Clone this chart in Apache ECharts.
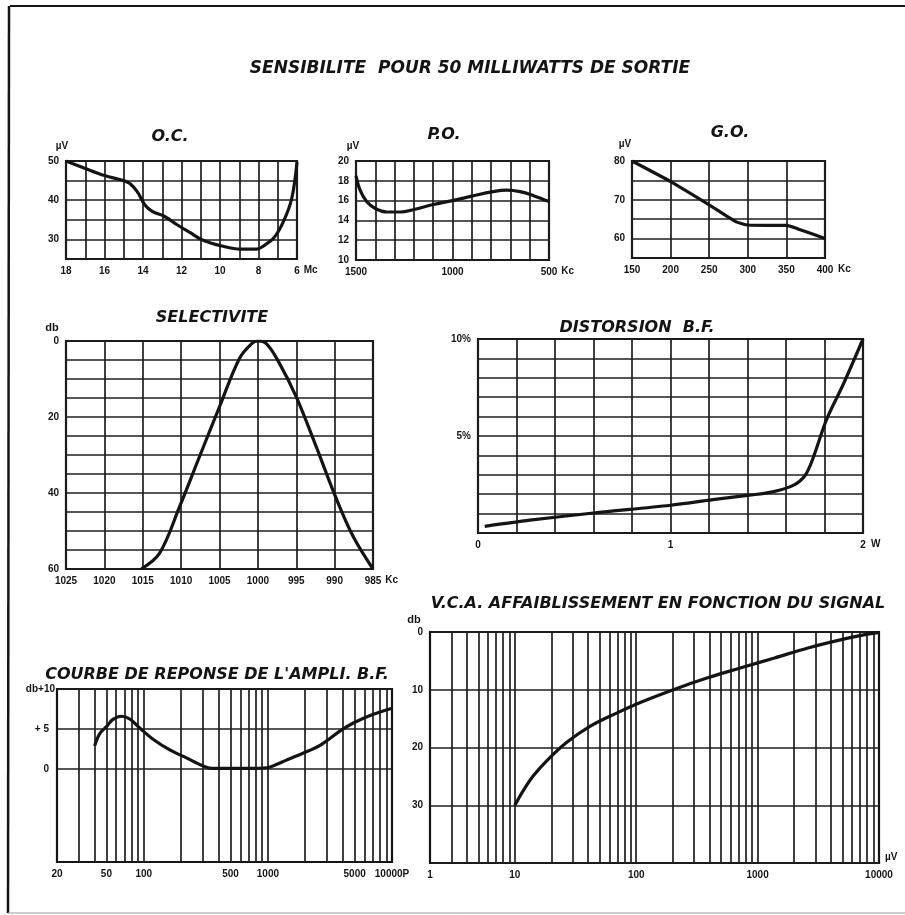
<!DOCTYPE html>
<html><head><meta charset="utf-8">
<script src="https://cdn.jsdelivr.net/npm/echarts@6/dist/echarts.min.js"></script>
<style>html,body{margin:0;padding:0;background:#fff}#c{width:905px;height:915px}</style>
</head><body><div id="c"></div>
<script>
// ---------- DATA ----------
// O.C. (Mc -> µV)
const ocFreq = [18, 17, 16, 15, 14.7, 14.3, 13.9, 13.5, 12.9, 12.25, 11.55, 10.85, 9.9, 8.95, 8.1, 7.75, 7.2, 6.7, 6.27, 6.0];
const ocUv   = [50, 48.1, 46.3, 45.0, 44.3, 42.2, 38.8, 37.1, 35.9, 33.8, 31.7, 29.7, 28.3, 27.5, 27.5, 28.3, 30.4, 34.6, 40.5, 49.7];
// P.O. (Kc -> µV)
const poFreq = [1500, 1480, 1445, 1400, 1340, 1270, 1200, 1100, 1000, 900, 790, 720, 650, 580, 500];
const poUv   = [18.5, 17.1, 15.9, 15.2, 14.85, 14.85, 15.1, 15.6, 16.0, 16.45, 16.9, 17.05, 16.9, 16.5, 15.9];
// G.O. (Kc -> µV)
const goFreq = [150, 200, 250, 285, 300, 325, 350, 365, 400];
const goUv   = [80, 74.7, 68.7, 64.3, 63.5, 63.4, 63.4, 62.5, 60];
// Selectivite (Kc -> db)
const selFreq = [1015.2, 1012.8, 1010.2, 1007.6, 1005.0, 1002.4, 1000.8, 1000, 998.9, 997.4, 995.0, 992.4, 989.9, 987.6, 985];
const selDb   = [60, 55.8, 43.6, 30.4, 17.3, 4.6, 0.7, 0, 0.7, 5.1, 14.7, 27.8, 40.9, 51.4, 60];
// Distorsion B.F. (W -> %)
const distW   = [0.035, 0.27, 0.6, 1.0, 1.22, 1.41, 1.53, 1.64, 1.70, 1.74, 1.81, 1.90, 2.0];
const distPct = [0.34, 0.66, 1.03, 1.43, 1.72, 1.95, 2.12, 2.47, 2.98, 3.84, 5.83, 7.72, 10];
// Courbe de reponse (Hz -> db)
const respHz = [40.2, 44.1, 50.1, 56.5, 66.3, 77.2, 93.3, 119.6, 162, 221, 300, 352, 465, 676, 980, 1332, 1935, 2650, 3850, 4880, 6660, 10000];
const respDb = [2.9, 4.4, 5.3, 6.2, 6.6, 6.25, 5.1, 3.7, 2.4, 1.4, 0.4, 0.1, 0.08, 0.08, 0.17, 0.96, 2.0, 3.0, 4.8, 5.75, 6.7, 7.6];
// V.C.A. (µV -> db)
const vcaUv = [10, 11.7, 14.2, 18.3, 26.8, 41.9, 69.6, 108, 205, 388, 730, 1377, 2600, 4900, 7660, 10000];
const vcaDb = [30, 27.5, 24.9, 22.3, 19.1, 16.3, 14.0, 12.2, 9.94, 7.93, 6.2, 4.5, 2.76, 1.32, 0.46, 0.06];

// tick / grid values
const respGridHz = [30,40,50,60,70,80,90,100,200,300,400,500,600,700,800,900,1000,2000,3000,4000,5000,6000,7000,8000,9000];
const respLabelHz = [50, 500, 5000];
const respYTicks = [0, 5, 10];
const respYLabels = ['0', '+ 5', 'db+10'];
const vcaGridUv = [3,4,5,6,7,8,9,10,20,30,40,50,60,70,80,90,100,200,300,400,500,600,700,800,900,1000,2000,3000,4000,5000,6000,7000,8000,9000];

const titles = [
  ['SENSIBILITE  POUR 50 MILLIWATTS DE SORTIE', 470, 69],
  ['O.C.', 170, 137], ['P.O.', 444, 135], ['G.O.', 730, 133],
  ['SELECTIVITE', 212, 318], ['DISTORSION  B.F.', 637, 328],
  ["COURBE DE REPONSE DE L'AMPLI. B.F.", 217, 675],
  ['V.C.A. AFFAIBLISSEMENT EN FONCTION DU SIGNAL', 658, 604]
];

// ---------- STYLE ----------
const INK = '#141414';
const GRIDC = '#1e1e1e';
const FONT = 'Liberation Sans';
const TFONT = 'DejaVu Sans';
const lab = {color: INK, fontFamily: FONT, fontWeight: 'bold', fontSize: 10};
const gridLine = {show: true, lineStyle: {color: GRIDC, width: 1.7}};

const gridBoxes = [
  [66, 161, 231, 98], [356, 161, 193, 99], [632, 161, 193, 97],
  [66, 341, 307, 228], [478, 339, 385, 194],
  [57, 689, 335, 173], [430, 632, 449, 231]
];
const grid = gridBoxes.map(b => ({left: b[0], top: b[1], width: b[2], height: b[3], show: true,
  borderColor: INK, borderWidth: 2.2, backgroundColor: 'transparent', containLabel: false}));

function xA(i, o, lbl, nameStyle) {
  return Object.assign({gridIndex: i, type: 'value', position: 'bottom', axisLine: {show: false, onZero: false}, axisTick: {show: false},
    splitLine: gridLine, nameTextStyle: Object.assign({}, lab, {verticalAlign: 'top', padding: [6, 0, 0, 0]}, nameStyle || {}),
    axisLabel: Object.assign({}, lab, {margin: 7, showMinLabel: true, showMaxLabel: true, hideOverlap: false}, lbl || {})}, o);
}
function yA(i, o, lbl, nameStyle) {
  return Object.assign({gridIndex: i, type: 'value', position: 'left', axisLine: {show: false, onZero: false}, axisTick: {show: false},
    splitLine: gridLine, nameTextStyle: Object.assign({}, lab, nameStyle || {}),
    axisLabel: Object.assign({}, lab, {margin: 7, showMinLabel: true, showMaxLabel: true}, lbl || {})}, o);
}
const intLabel = v => String(Math.round(v));

const xAxis = [
  xA(0, {min: 6, max: 18, interval: 1, inverse: true, name: 'Mc', nameLocation: 'start', nameGap: 6},
     {formatter: v => Math.round(v) % 2 === 0 ? String(Math.round(v)) : ''}),
  xA(1, {min: 500, max: 1500, interval: 100, inverse: true, name: 'Kc', nameLocation: 'start', nameGap: 10},
     {formatter: v => [500, 1000, 1500].indexOf(Math.round(v)) >= 0 ? String(Math.round(v)) : ''}),
  xA(2, {min: 150, max: 400, interval: 50, name: 'Kc', nameLocation: 'end', nameGap: 13}, {formatter: intLabel}),
  xA(3, {min: 985, max: 1025, interval: 5, inverse: true, name: 'Kc', nameLocation: 'start', nameGap: 12}, {formatter: intLabel}),
  xA(4, {min: 0, max: 2, interval: 0.2, name: 'W', nameLocation: 'end', nameGap: 8},
     {formatter: v => { const r = Math.round(v * 10); return r === 0 ? '0' : r === 10 ? '1' : r === 20 ? '2' : ''; }}),
  xA(5, {type: 'log', logBase: 10, min: 20, max: 10000, splitLine: {show: false}},
     {formatter: v => { const r = Math.round(v); return r === 10000 ? '10000P' : String(r); }}),
  xA(6, {type: 'log', logBase: 10, min: 2, max: 10000, splitLine: {show: false}, name: 'µV', nameLocation: 'end', nameGap: 6},
     {formatter: v => { const r = Math.round(v); return r <= 2 ? '1' : String(r); }},
     {verticalAlign: 'bottom', padding: [0, 0, 1, 0]})
];

const yAxis = [
  yA(0, {min: 25, max: 50, interval: 5, name: 'µV', nameLocation: 'end', nameGap: 10},
     {formatter: v => v % 10 === 0 ? String(v) : ''}, {padding: [0, 8, 0, 0]}),
  yA(1, {min: 10, max: 20, interval: 2, name: 'µV', nameLocation: 'end', nameGap: 10}, {}, {padding: [0, 6, 0, 0]}),
  yA(2, {min: 55, max: 80, interval: 5, name: 'µV', nameLocation: 'end', nameGap: 12},
     {formatter: v => v % 10 === 0 ? String(v) : ''}, {padding: [0, 14, 0, 0]}),
  yA(3, {min: 0, max: 60, interval: 5, inverse: true, name: 'db', nameLocation: 'start', nameGap: 8},
     {formatter: v => v % 20 === 0 ? String(v) : ''}, {fontSize: 11, padding: [0, 28, 0, 0]}),
  yA(4, {min: 0, max: 10, interval: 1},
     {formatter: v => v === 10 ? '10%' : v === 5 ? '5%' : ''}),
  yA(5, {min: -11.6, max: 10, splitLine: {show: false}}, {show: false}),
  yA(6, {min: 0, max: 40, interval: 10, inverse: true, name: 'db', nameLocation: 'start', nameGap: 7},
     {formatter: v => v === 40 ? '' : String(v)}, {fontSize: 11, padding: [0, 32, 0, 0]})
];

function curve(i, xs, ys, smooth) {
  return {type: 'line', xAxisIndex: i, yAxisIndex: i, data: xs.map((x, k) => [x, ys[k]]),
    showSymbol: false, symbol: 'none', smooth: smooth, silent: true, z: 6,
    lineStyle: {color: INK, width: 3.2}};
}
const mlBase = {silent: true, symbol: ['none', 'none'], z: 1, animation: false,
  lineStyle: {color: GRIDC, width: 1.7, type: 'solid'}, label: {show: false}, emphasis: {disabled: true}};

const sResp = curve(5, respHz, respDb, 0.35);
sResp.markLine = Object.assign({}, mlBase, {
  data: respGridHz.map(v => respLabelHz.indexOf(v) >= 0
      ? {xAxis: v, label: Object.assign({}, lab, {show: true, position: 'start', distance: 7, formatter: String(v)})}
      : {xAxis: v})
    .concat(respYTicks.map((v, k) => ({yAxis: v,
      label: Object.assign({}, lab, {show: true, position: 'start', distance: k === 2 ? 2 : 8, formatter: respYLabels[k]})})))
});
const sVca = curve(6, vcaUv, vcaDb, 0.35);
sVca.markLine = Object.assign({}, mlBase, {data: vcaGridUv.map(v => ({xAxis: v}))});

const series = [
  curve(0, ocFreq, ocUv, 0.35),
  curve(1, poFreq, poUv, 0.4),
  curve(2, goFreq, goUv, 0.15),
  curve(3, selFreq, selDb, 0.35),
  curve(4, distW, distPct, 0.3),
  sResp, sVca
];

const title = titles.map((t, k) => ({text: t[0], left: t[1], top: t[2], textAlign: 'center', textVerticalAlign: 'middle', padding: 0,
  textStyle: {color: INK, fontFamily: TFONT, fontWeight: 'bold', fontStyle: 'italic', fontSize: k === 0 ? 17 : 16}}));

const chart = echarts.init(document.getElementById('c'), null, {renderer: 'canvas'});
chart.setOption({
  backgroundColor: '#ffffff',
  animation: false,
  title, grid, xAxis, yAxis, series,
  graphic: [
    {type: 'line', shape: {x1: 10, y1: 6, x2: 905, y2: 6}, style: {stroke: INK, lineWidth: 2}},
    {type: 'line', shape: {x1: 9, y1: 6, x2: 8, y2: 913}, style: {stroke: INK, lineWidth: 2.5}},
    {type: 'line', shape: {x1: 8, y1: 913, x2: 905, y2: 913}, style: {stroke: '#999', lineWidth: 1}}
  ]
});
</script></body></html>
